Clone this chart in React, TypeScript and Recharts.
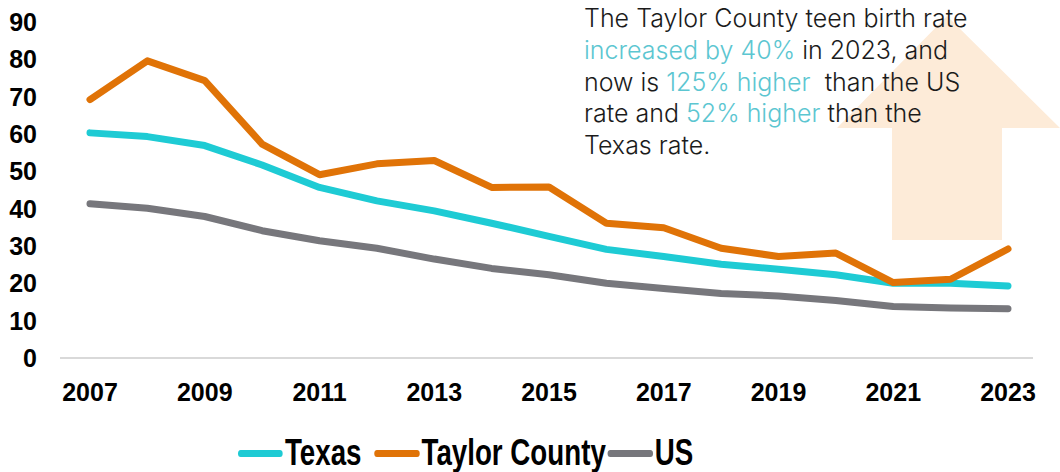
import React from 'react';
import { LineChart, Line, XAxis, YAxis, Legend } from 'recharts';

const years = ['2007', '2008', '2009', '2010', '2011', '2012', '2013', '2014', '2015', '2016', '2017', '2018', '2019', '2020', '2021', '2022', '2023'];
const texas = [60.3, 59.3, 56.9, 51.7, 45.7, 42.1, 39.4, 36.1, 32.6, 29.1, 27.2, 25.1, 23.8, 22.3, 20.0, 20.0, 19.3];
const taylor = [69.2, 79.6, 74.3, 57.3, 49.1, 52.0, 52.9, 45.7, 45.8, 36.1, 34.9, 29.4, 27.2, 28.1, 20.2, 21.1, 29.2];
const us = [41.3, 40.1, 37.9, 34.1, 31.4, 29.4, 26.5, 24.0, 22.3, 20.0, 18.6, 17.3, 16.6, 15.4, 13.8, 13.4, 13.2];
const yTicks = [0, 10, 20, 30, 40, 50, 60, 70, 80, 90];
const seriesNames = ['Texas', 'Taylor County', 'US'];

const data = years.map((year, i) => ({
  year,
  texas: texas[i],
  taylor: taylor[i],
  us: us[i]
}));

const TEAL = '#1ecbd4';
const ORANGE = '#e07307';
const GRAY = '#77777c';
const HIGHLIGHT = '#5cc6d1';

// the legend font in the original is a bold narrow face; no narrow font is
// installed, so the whole row is squeezed horizontally
const SQUEEZE = 0.77;

const renderLegend = (props: any) => {
  const payload = props.payload || [];
  const gaps = [13, 2, 0];
  const ordered = seriesNames.map(name => payload.find((p: any) => p.value === name)).filter(Boolean);
  return (
    <div style={{
      display: 'flex',
      alignItems: 'center',
      height: 38,
      marginLeft: 238,
      transform: `scaleX(${SQUEEZE})`,
      transformOrigin: '0 0',
      whiteSpace: 'nowrap'
    }}>
      {ordered.map((entry: any, i: number) => (
        <div key={entry.value} style={{ display: 'flex', alignItems: 'center', marginRight: gaps[i] / SQUEEZE }}>
          <div style={{ width: 45 / SQUEEZE, height: 7, borderRadius: 4, background: entry.color, marginRight: 2 / SQUEEZE }} />
          <span style={{
            fontFamily: "'Liberation Sans', Arial, sans-serif",
            fontWeight: 700,
            fontSize: 36,
            color: '#000',
            lineHeight: '38px'
          }}>{entry.value}</span>
        </div>
      ))}
    </div>
  );
};

const tickStyle = { fontFamily: "'Liberation Sans', Arial, sans-serif", fontWeight: 700, fontSize: 25, fill: '#000' };

export default function App() {
  return (
    <div style={{ position: 'absolute', left: 0, top: 0, width: 1060, height: 472, background: '#fff', overflow: 'hidden' }}>
      {/* big up arrow behind everything */}
      <svg width={1060} height={472} style={{ position: 'absolute', left: 0, top: 0 }}>
        <polygon points="837,128 947,16 1060,128 1002,128 1002,240 892,240 892,128" fill="#fdebd8" />
      </svg>

      <div style={{ position: 'absolute', left: 0, top: 0 }}>
        <LineChart width={1060} height={472} data={data} margin={{ top: 22, right: 27, bottom: 16, left: 0 }}>
          <XAxis
            dataKey="year"
            interval={1}
            height={60}
            tickSize={0}
            tickMargin={25}
            axisLine={{ stroke: '#d9d9d9', strokeWidth: 2 }}
            tick={tickStyle}
            padding={{ left: 30, right: 25 }}
          />
          <YAxis
            domain={[0, 90]}
            ticks={yTicks}
            width={60}
            axisLine={false}
            tickSize={0}
            tickMargin={23}
            tick={tickStyle}
          />
          <Legend
            verticalAlign="bottom"
            content={renderLegend}
            wrapperStyle={{ top: 434, bottom: 'auto', left: 0, width: 1060 }}
          />
          <Line type="linear" dataKey="texas" name="Texas" stroke={TEAL} strokeWidth={7} strokeLinecap="round" strokeLinejoin="round" dot={false} isAnimationActive={false} />
          <Line type="linear" dataKey="taylor" name="Taylor County" stroke={ORANGE} strokeWidth={7} strokeLinecap="round" strokeLinejoin="round" dot={false} isAnimationActive={false} />
          <Line type="linear" dataKey="us" name="US" stroke={GRAY} strokeWidth={7} strokeLinecap="round" strokeLinejoin="round" dot={false} isAnimationActive={false} />
        </LineChart>
      </div>

      <div style={{
        position: 'absolute',
        left: 584,
        top: 3,
        fontFamily: "Inter, 'Open Sans', sans-serif",
        fontWeight: 300,
        fontSize: 25,
        lineHeight: '31.75px',
        color: '#1b1b1b',
        whiteSpace: 'pre'
      }}>
        {'The Taylor County teen birth rate\n'}
        <span style={{ color: HIGHLIGHT }}>increased by 40%</span>{' in 2023, and\n'}
        {'now is '}<span style={{ color: HIGHLIGHT }}>125% higher</span>{'  than the US\n'}
        {'rate and '}<span style={{ color: HIGHLIGHT }}>52% higher</span>{' than the\n'}
        {'Texas rate.'}
      </div>
    </div>
  );
}
